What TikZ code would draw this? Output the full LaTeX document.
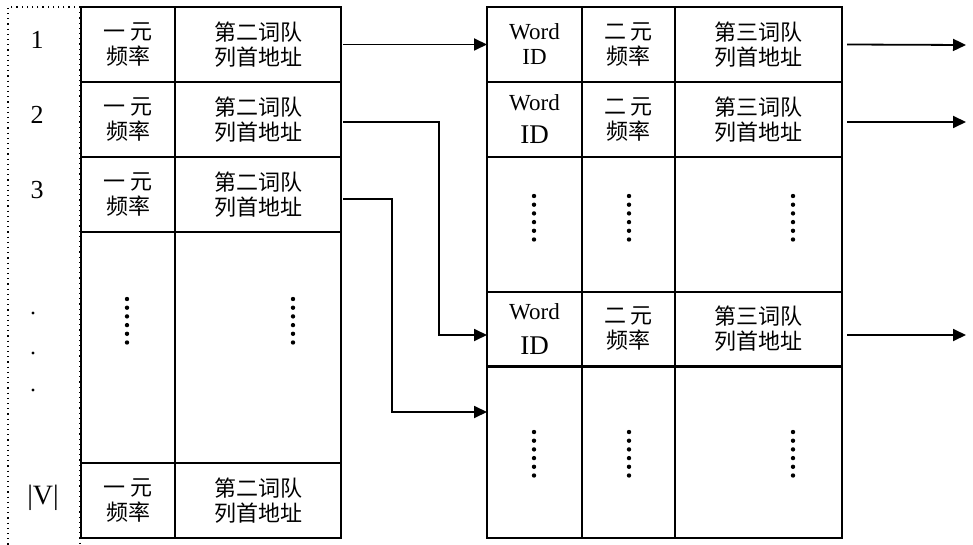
\documentclass[tikz,border=0pt]{standalone}
\usepackage{fontspec}
\setmainfont{Liberation Serif}
\newfontfamily\cjk{Noto Sans CJK SC}
\usetikzlibrary{arrows.meta}

\begin{document}
\begin{tikzpicture}[x=0.5pt,y=-0.5pt,
  cell/.style 2 args={draw,line width=1pt,inner sep=0pt,outer sep=0pt,
    minimum width=#1*0.5pt,minimum height=#2*0.5pt,align=center},
  zh/.style={font=\cjk\fontsize{11}{12.5}\selectfont},
  en/.style={font=\fontsize{11.5}{12.5}\selectfont},
  idx/.style={font=\fontsize{13}{13}\selectfont,inner sep=0pt},
  link/.style={line width=0.9pt,-{Triangle[length=6.5pt,width=6pt]}}]

\useasboundingbox (0,0) rectangle (973,545);

\draw[dotted,line width=0.6pt] (80,7) -- (8,7) -- (8,545);
\draw[dotted,line width=0.6pt] (80,7) -- (80,545);

\node[idx] (idx1) at (37,40) {1};
\node[idx] (idx2) at (37,115) {2};
\node[idx] (idx3) at (37,190) {3};
\node[idx,font=\fontsize{14}{14}\selectfont] (idxV) at (43,498) {|V|};
\foreach \y in {313,353,390}
  \fill (33,\y) circle (0.8pt);

\foreach \r/\y in {1/44.5,2/119.5,3/194.5,5/500.5}{
  \node[cell={94}{75},zh] (la\r) at (128,\y) {一~元\\频率};
  \node[cell={166}{75},zh] (lb\r) at (258,\y) {第二词队\\列首地址};
}
\node[cell={94}{231}] (la4) at (128,347.5) {};
\node[cell={166}{231}] (lb4) at (258,347.5) {};

\foreach \r/\y/\s/\g in {1/44.5/11.5/0pt,2/119.5/13.5/4pt,4/329/13.5/5pt}{
  \node[cell={95}{75},en] (ra\r) at (534.5,\y) {Word\\[\g]\fontsize{\s}{\s}\selectfont ID};
  \node[cell={93}{75},zh] (rb\r) at (628.5,\y) {二~元\\频率};
  \node[cell={167}{75},zh] (rc\r) at (758.5,\y) {第三词队\\列首地址};
}
\node[cell={95}{135}] (ra3) at (534.5,224.5) {};
\node[cell={93}{135}] (rb3) at (628.5,224.5) {};
\node[cell={167}{135}] (rc3) at (758.5,224.5) {};
\node[cell={95}{172}] (ra5) at (534.5,452) {};
\node[cell={93}{172}] (rb5) at (628.5,452) {};
\node[cell={167}{172}] (rc5) at (758.5,452) {};

\foreach \x/\y in {127/299,293/299,534/196,629/196,793/196,534/432,629/432,793/432}
  \foreach \k in {0,...,5}
    \fill (\x,\y+\k*8.7) circle (1.1pt);

\coordinate (out1) at (966,45);
\coordinate (out2) at (966,122);
\coordinate (out3) at (966,335);

\draw[link] ([xshift=1pt]lb1.east) -- (ra1.west);
\draw[link] ([xshift=1pt,yshift=-1.25pt]lb2.east) -- ++(96,0) |- ([yshift=-3pt]ra4.west);
\draw[link] ([xshift=1pt,yshift=-2.25pt]lb3.east) -- ++(49,0) |- ([yshift=20pt]ra5.west);
\draw[link] ([xshift=2.5pt]rc1.east) -- (out1);
\draw[link] ([xshift=2.5pt,yshift=-1.25pt]rc2.east) -- (out2);
\draw[link] ([xshift=2.5pt,yshift=-3pt]rc4.east) -- (out3);

\end{tikzpicture}
\end{document}
